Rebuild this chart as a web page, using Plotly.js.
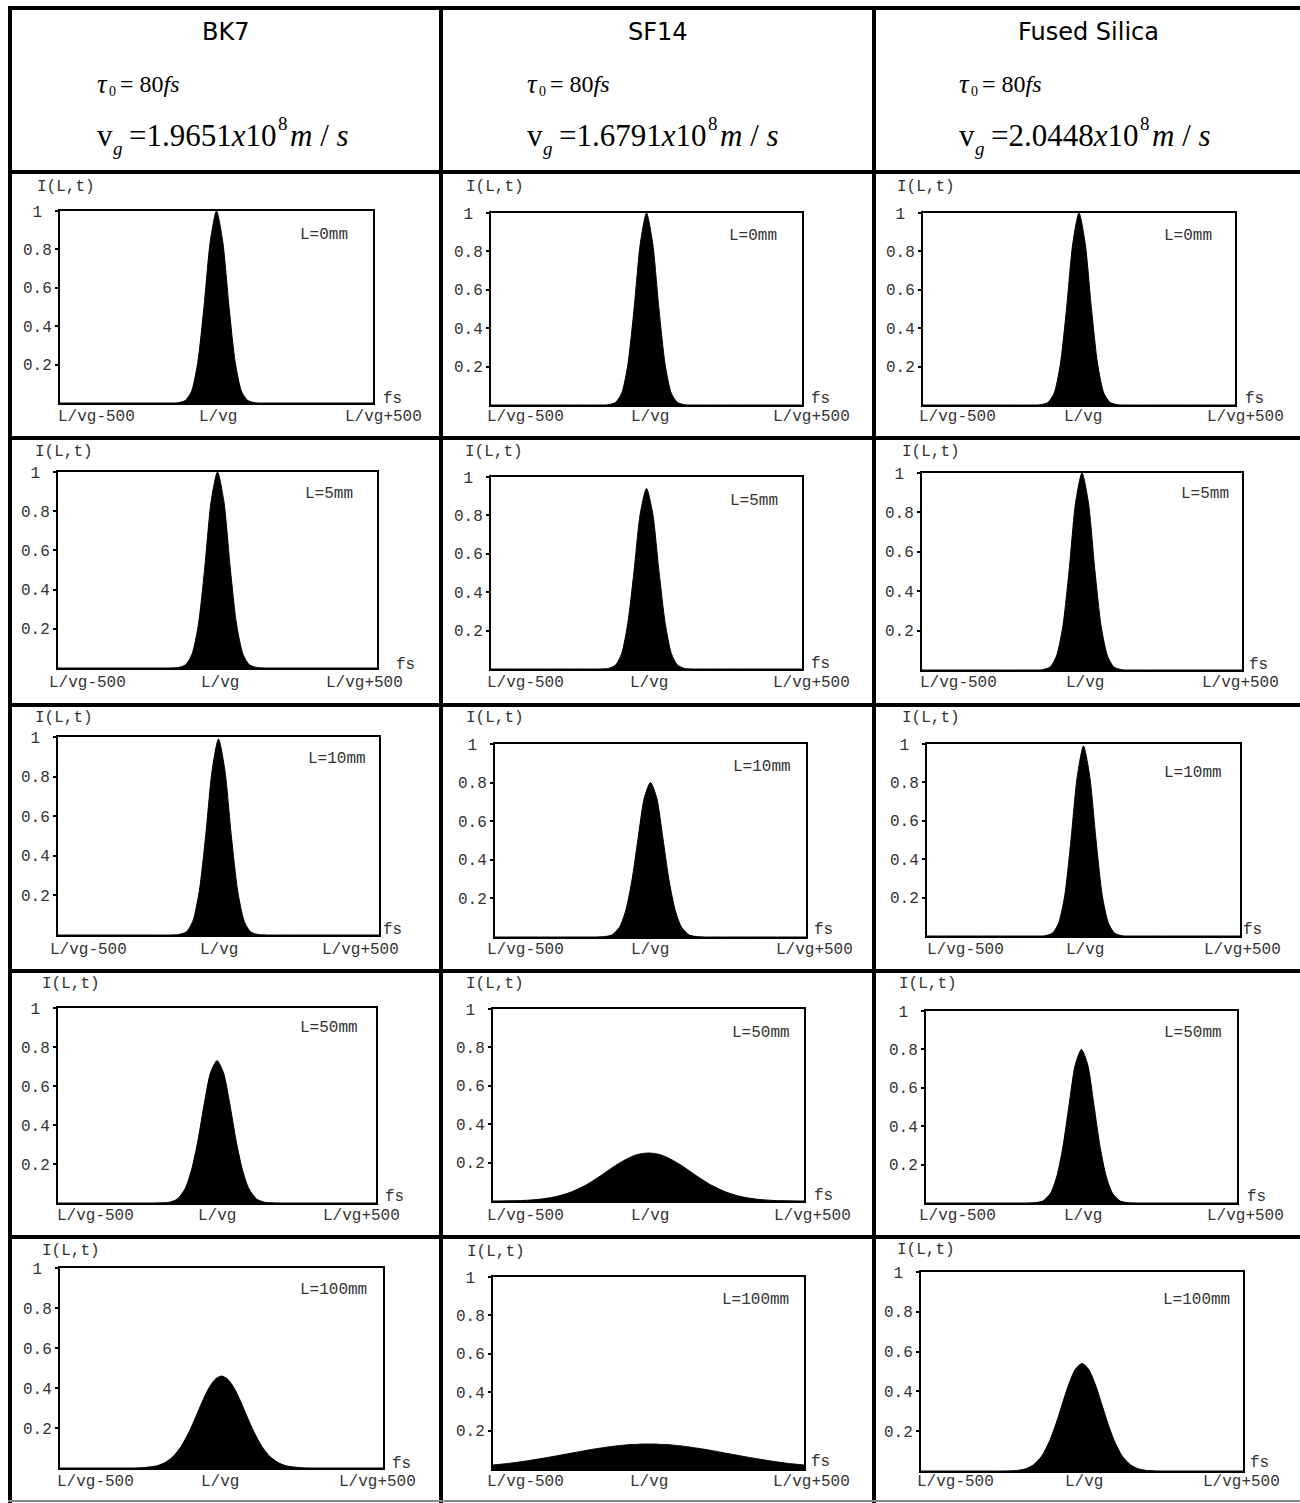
<!DOCTYPE html>
<html><head><meta charset="utf-8">
<script src="https://cdn.plot.ly/plotly-3.0.1.min.js"></script>
<style>html,body{margin:0;padding:0;background:#fff}#chart{width:1300px;height:1503px}</style>
</head><body><div id="chart"></div>
<script>
// ---------------- DATA ----------------
const materials = ["BK7", "SF14", "Fused Silica"];
const tau0 = "80";
const vgValues = ["1.9651", "1.6791", "2.0448"];
const vgExponent = "8";
const lengthLabels = ["L=0mm", "L=5mm", "L=10mm", "L=50mm", "L=100mm"];
const xTickLabels = ["L/vg-500", "L/vg", "L/vg+500"];
const yTickVals = [0.2, 0.4, 0.6, 0.8, 1];
const yTickText = ["0.2", "0.4", "0.6", "0.8", "1\u00a0"];
const yAxisLabel = "I(L,t)";
const xUnit = "fs";

// time relative to L/vg (fs)
const t_fs = [-500,-450,-400,-350,-300,-250,-200,-175,-150,-125,-100,-80,-60,-40,-20,0,20,40,60,80,100,125,150,175,200,250,300,350,400,450,500];

// intensity I(L,t)
const bk7_L0   = [0,0,0,0,0,0,0,0,0,0.001,0.013,0.06,0.21,0.50,0.84,1,0.84,0.50,0.21,0.06,0.013,0.001,0,0,0,0,0,0,0,0,0];
const sf14_L0  = [0,0,0,0,0,0,0,0,0,0.001,0.013,0.06,0.21,0.50,0.84,1,0.84,0.50,0.21,0.06,0.013,0.001,0,0,0,0,0,0,0,0,0];
const fs_L0    = [0,0,0,0,0,0,0,0,0,0.001,0.013,0.06,0.21,0.50,0.84,1,0.84,0.50,0.21,0.06,0.013,0.001,0,0,0,0,0,0,0,0,0];
const bk7_L5   = [0,0,0,0,0,0,0,0,0,0.002,0.016,0.07,0.22,0.51,0.85,1,0.85,0.51,0.22,0.07,0.016,0.002,0,0,0,0,0,0,0,0,0];
const sf14_L5  = [0,0,0,0,0,0,0,0,0,0.002,0.02,0.08,0.24,0.51,0.81,0.94,0.81,0.51,0.24,0.08,0.02,0.002,0,0,0,0,0,0,0,0,0];
const fs_L5    = [0,0,0,0,0,0,0,0,0,0.001,0.015,0.07,0.22,0.51,0.85,1,0.85,0.51,0.22,0.07,0.015,0.001,0,0,0,0,0,0,0,0,0];
const bk7_L10  = [0,0,0,0,0,0,0,0,0,0.002,0.016,0.07,0.22,0.50,0.83,0.99,0.83,0.50,0.22,0.07,0.016,0.002,0,0,0,0,0,0,0,0,0];
const sf14_L10 = [0,0,0,0,0,0,0,0,0.002,0.01,0.05,0.135,0.29,0.51,0.72,0.80,0.72,0.51,0.29,0.135,0.05,0.01,0.002,0,0,0,0,0,0,0,0];
const fs_L10   = [0,0,0,0,0,0,0,0,0,0.001,0.014,0.065,0.21,0.50,0.83,0.99,0.83,0.50,0.21,0.065,0.014,0.001,0,0,0,0,0,0,0,0,0];
const bk7_L50  = [0,0,0,0,0,0,0,0.001,0.004,0.020,0.074,0.17,0.32,0.51,0.67,0.73,0.67,0.51,0.32,0.17,0.074,0.020,0.004,0.001,0,0,0,0,0,0,0];
const sf14_L50 = [0,0.001,0.003,0.009,0.022,0.046,0.084,0.109,0.136,0.164,0.191,0.210,0.227,0.240,0.247,0.25,0.247,0.240,0.227,0.210,0.191,0.164,0.136,0.109,0.084,0.046,0.022,0.009,0.003,0.001,0];
const fs_L50   = [0,0,0,0,0,0,0,0,0.002,0.01,0.05,0.135,0.29,0.51,0.72,0.80,0.72,0.51,0.29,0.135,0.05,0.01,0.002,0,0,0,0,0,0,0,0];
const bk7_L100 = [0,0,0,0,0,0.001,0.011,0.027,0.057,0.108,0.182,0.254,0.330,0.397,0.443,0.46,0.443,0.397,0.330,0.254,0.182,0.108,0.057,0.027,0.011,0.001,0,0,0,0,0];
const sf14_L100= [0.021,0.029,0.040,0.053,0.067,0.082,0.097,0.104,0.110,0.116,0.121,0.124,0.127,0.128,0.130,0.13,0.130,0.128,0.127,0.124,0.121,0.116,0.110,0.104,0.097,0.082,0.067,0.053,0.040,0.029,0.021];
const fs_L100  = [0,0,0,0,0,0,0.003,0.011,0.032,0.075,0.153,0.241,0.343,0.441,0.513,0.54,0.513,0.441,0.343,0.241,0.153,0.075,0.032,0.011,0.003,0,0,0,0,0,0];

const series = [
  [bk7_L0,  sf14_L0,  fs_L0],
  [bk7_L5,  sf14_L5,  fs_L5],
  [bk7_L10, sf14_L10, fs_L10],
  [bk7_L50, sf14_L50, fs_L50],
  [bk7_L100,sf14_L100,fs_L100]
];

// ---------------- GEOMETRY (pixels) ----------------
const W = 1300, H = 1503;
const px = v => v / W;
const py = v => 1 - v / H;
// plot boxes [left, right, top, bottom]
const boxes = [
  [[60,373,211,403],[491,802,213,405],[923,1235,213,405]],
  [[58,377,472,668],[491,802,477,669],[922,1242,473,670]],
  [[58,379,737,935],[495,806,744,937],[927,1240,744,936]],
  [[58,376,1008,1203],[493,804,1009,1201],[926,1237,1011,1203]],
  [[60,383,1268,1468],[493,804,1277,1469],[921,1243,1272,1471]]
];
const xLabelPos = [
  [[96,218,383],[525,650,811],[957,1083,1245]],
  [[87,220,364],[525,649,811],[959,1085,1240]],
  [[88,219,360],[525,650,814],[965,1085,1242]],
  [[95,217,361],[525,650,812],[957,1083,1245]],
  [[95,220,377],[525,649,811],[955,1084,1241]]
];
const xLabelY = [417, 683, 950, 1216, 1482];
const fsPos = [
  [[392,399],[821,399],[1254,399]],
  [[405,665],[820,664],[1258,665]],
  [[392,930],[823,930],[1252,930]],
  [[395,1197],[823,1196],[1256,1197]],
  [[401,1464],[820,1462],[1259,1463]]
];
const lPos = [
  [[324,235],[753,236],[1188,236]],
  [[329,494],[754,501],[1205,494]],
  [[337,759],[762,767],[1193,773]],
  [[329,1028],[761,1033],[1193,1033]],
  [[333,1290],[755,1300],[1196,1300]]
];
const iltPos = [
  [[35,187],[464,187],[895,187]],
  [[33,452],[463,452],[900,452]],
  [[33,718],[464,718],[900,718]],
  [[40,984],[464,984],[897,984]],
  [[40,1251],[465,1252],[895,1250]]
];
const rowLines = [172, 438, 705, 971, 1237];
const colLines = [441, 874];
const colTitleX = [225, 658, 1088];
const formulaX = [95, 525, 957];

const mono = "Liberation Mono, Courier New, monospace";
const serif = "Liberation Serif, Times New Roman, serif";
const textCol = "#333";

const traces = [];
const layout = {
  width: W, height: H,
  margin: {l:0, r:0, t:0, b:0},
  paper_bgcolor: "#fff", plot_bgcolor: "#fff",
  showlegend: false,
  annotations: [], shapes: []
};

const note = (x, y, text, font, xanchor) => layout.annotations.push({
  xref: "paper", yref: "paper", x: px(x), y: py(y),
  xanchor: xanchor || "center", yanchor: "middle", showarrow: false,
  text: text, font: font
});

let k = 0;
for (let r = 0; r < 5; r++) {
  for (let c = 0; c < 3; c++) {
    k++;
    const sfx = k === 1 ? "" : String(k);
    const [L, R, T, B] = boxes[r][c];
    traces.push({
      type: "scatter", mode: "lines",
      x: t_fs, y: series[r][c],
      xaxis: "x" + sfx, yaxis: "y" + sfx,
      fill: "tozeroy", fillcolor: "#000",
      line: {color: "#000", width: 1, shape: "spline", smoothing: 0.7},
      hoverinfo: "skip"
    });
    layout["xaxis" + sfx] = {
      domain: [px(L), px(R)], anchor: "y" + sfx, range: [-500, 500],
      showline: true, mirror: true, linecolor: "#000", linewidth: 2,
      ticks: "", showticklabels: false, showgrid: false, zeroline: false, fixedrange: true
    };
    layout["yaxis" + sfx] = {
      domain: [py(B), py(T)], anchor: "x" + sfx, range: [0, 1],
      showline: true, mirror: true, linecolor: "#000", linewidth: 2,
      ticks: "outside", ticklen: 3, tickwidth: 2, tickcolor: "#000",
      tickmode: "array", tickvals: yTickVals, ticktext: yTickText,
      tickfont: {family: mono, size: 16, color: textCol},
      showgrid: false, zeroline: false, fixedrange: true
    };
    for (let j = 0; j < 3; j++) {
      note(xLabelPos[r][c][j], xLabelY[r], xTickLabels[j], {family: mono, size: 16, color: textCol});
    }
    note(fsPos[r][c][0], fsPos[r][c][1], xUnit, {family: mono, size: 16, color: textCol});
    note(lPos[r][c][0], lPos[r][c][1], lengthLabels[r], {family: mono, size: 16, color: textCol});
    note(iltPos[r][c][0], iltPos[r][c][1], yAxisLabel, {family: mono, size: 16, color: textCol}, "left");
  }
}

// header
for (let c = 0; c < 3; c++) {
  const x0 = formulaX[c];
  note(colTitleX[c], 32, materials[c], {family: "DejaVu Sans, Verdana, sans-serif", size: 24, color: "#000"});
  // tau_0 = 80 fs
  note(x0, 84, "<i>τ</i>", {family: serif, size: 27, color: "#000"}, "left");
  note(x0 + 12, 92, "0", {family: serif, size: 14, color: "#000"}, "left");
  note(x0 + 23, 84, "= " + tau0 + "<i>fs</i>", {family: serif, size: 24, color: "#000"}, "left");
  // v_g = ... x10^8 m/s
  note(x0, 136, "v", {family: serif, size: 31, color: "#000"}, "left");
  note(x0 + 16, 149, "<i>g</i>", {family: serif, size: 19, color: "#000"}, "left");
  note(x0 + 32, 136, "=" + vgValues[c] + "<i>x</i>10", {family: serif, size: 31, color: "#000"}, "left");
  note(x0 + 181, 124, vgExponent, {family: serif, size: 19, color: "#000"}, "left");
  note(x0 + 193, 136, "<i>m</i> / <i>s</i>", {family: serif, size: 31, color: "#000"}, "left");
}

// table grid
const line = (x0, y0, x1, y1, w, col) => layout.shapes.push({
  type: "line", xref: "paper", yref: "paper",
  x0: px(x0), y0: py(y0), x1: px(x1), y1: py(y1),
  line: {color: col || "#000", width: w}
});
line(8, 8, 1300, 8, 4);
line(10, 6, 10, 1503, 4);
colLines.forEach(x => line(x, 6, x, 1503, 4));
rowLines.forEach(y => line(8, y, 1300, y, 4));
line(8, 1501, 1300, 1501, 2, "#888");

Plotly.newPlot("chart", traces, layout, {staticPlot: true, displayModeBar: false});
</script>
</body></html>
